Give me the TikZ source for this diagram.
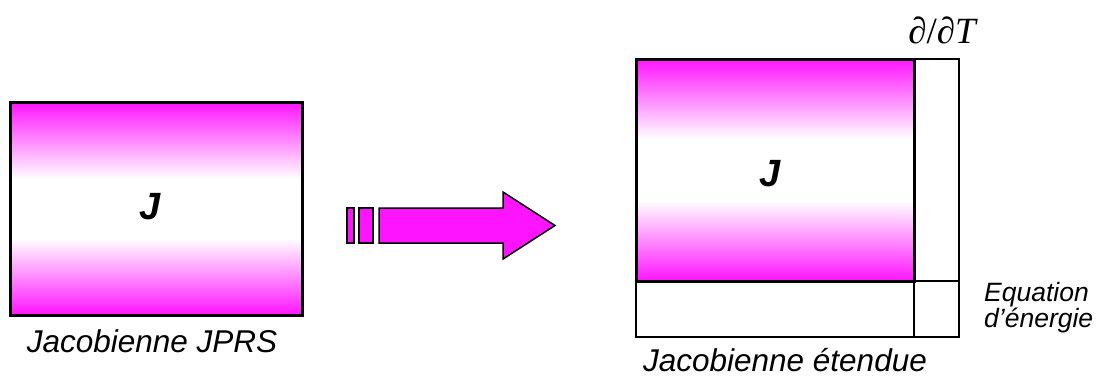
\documentclass[tikz,border=0pt]{standalone}
\usepackage{fontspec}
\setmainfont{Liberation Sans}
\setsansfont{Liberation Sans}
\newfontfamily\timesfont{Liberation Serif}
\definecolor{mag}{RGB}{255,20,255}
\pgfdeclareverticalshading{jshade}{100bp}{color(0bp)=(mag); color(25bp)=(mag); color(43bp)=(white); color(57bp)=(white); color(75bp)=(mag); color(100bp)=(mag)}
\begin{document}
\begin{tikzpicture}[x=1pt,y=-1pt,
  lab/.style={font=\fontsize{31.5}{36}\selectfont\itshape, inner sep=0pt},
  smalllab/.style={font=\fontsize{26.5}{30}\selectfont\itshape, inner sep=0pt},
  bigj/.style={font=\fontsize{38}{44}\selectfont\bfseries\itshape, inner sep=0pt},
  jbox/.style={draw=black, line width=3pt, shading=jshade, inner sep=0pt, outer sep=0pt},
  gridbox/.style={draw=black, line width=2pt, inner sep=0pt, outer sep=0pt},
  gridline/.style={draw=black, line width=2pt},
  arrowpart/.style={fill=mag, draw=black, line width=1.5pt, line join=miter}]
\useasboundingbox (0,0) rectangle (1099,376);

% left Jacobian
\node[jbox, minimum width=292pt, minimum height=213pt] (jl) at (156,208.5) {};
\node[bigj] (jlt) at (150,207) {J};
\node[lab, anchor=base] (jllab) at (152,352) {Jacobienne JPRS};

% arrow
\coordinate (a1) at (347,208);
\coordinate (a2) at (354,243);
\coordinate (b1) at (359,208);
\coordinate (b2) at (373,243);
\draw[arrowpart] (a1) rectangle (a2);
\draw[arrowpart] (b1) rectangle (b2);
\draw[arrowpart] (379,208) -- (503,208) -- (503,192) -- (555,225.5) -- (503,259) -- (503,243) -- (379,243) -- cycle;

% right extended Jacobian
\node[gridbox, minimum width=323pt, minimum height=278pt] (ext) at (797.5,198) {};
\node[jbox, minimum width=278pt, minimum height=222pt] (jr) at (775,170) {};
\draw[gridline] (ext.north -| jr.east) -- (ext.south -| jr.east);
\draw[gridline] (jr.south east) -- (jr.south east -| ext.east);
\draw[line width=3pt] (jr.north west) rectangle (jr.south east);
\node[bigj] (jrt) at (770,174) {J};
\node[lab, anchor=base] (jrlab) at (785,371) {Jacobienne étendue};
\node[font=\fontsize{37}{42}\selectfont\timesfont, anchor=base, inner sep=0pt] (dT) at (942,43) {∂/∂{\itshape T}};
\node[smalllab, anchor=base west] (eq1) at (984,301) {Equation};
\node[smalllab, anchor=base west] (eq2) at (984,327) {d’énergie};
\end{tikzpicture}
\end{document}
